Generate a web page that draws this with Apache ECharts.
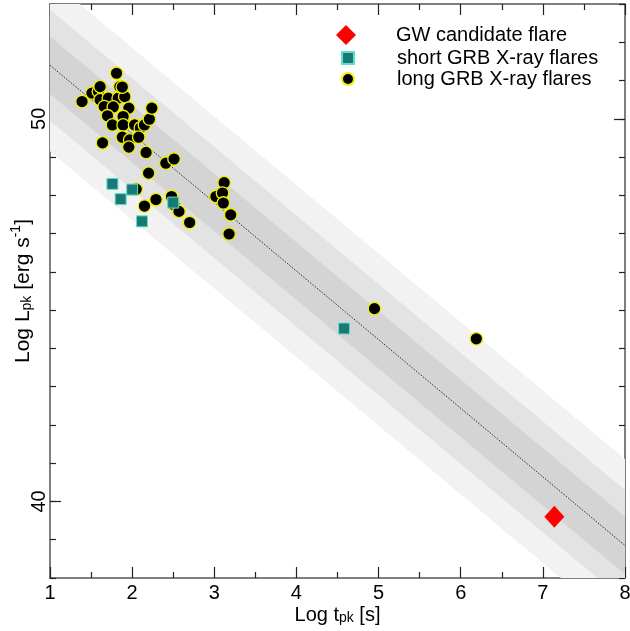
<!DOCTYPE html>
<html><head><meta charset="utf-8">
<script src="https://cdn.jsdelivr.net/npm/echarts@6/dist/echarts.min.js"></script>
<style>html,body{margin:0;padding:0;background:#fff}#c{width:630px;height:631px}</style>
</head><body><div id="c"></div>
<script>
// ---- data ----
const longGRB = [[1.39,50.45],[1.51,50.67],[1.59,50.71],[1.61,50.50],[1.71,50.54],[1.66,50.32],[1.83,50.54],[1.91,50.58],[1.85,50.84],[1.88,50.83],[1.81,51.19],[1.61,50.84],[1.77,50.31],[1.96,50.28],[1.89,50.06],[1.70,50.08],[1.76,49.84],[1.89,49.84],[2.03,49.84],[2.10,49.76],[2.15,49.84],[2.21,49.99],[2.24,50.28],[1.88,49.52],[1.97,49.45],[2.08,49.52],[1.96,49.26],[1.64,49.37],[2.17,49.12],[2.41,48.84],[2.51,48.95],[2.20,48.58],[2.05,48.16],[2.29,47.89],[2.15,47.72],[2.48,47.97],[2.51,47.75],[2.57,47.58],[2.70,47.29],[3.02,47.97],[3.12,48.33],[3.10,48.06],[3.11,47.80],[3.20,47.49],[3.18,46.99],[4.95,45.04],[6.19,44.25]];
const shortGRB = [[1.76,48.30],[2.00,48.15],[1.86,47.90],[2.12,47.32],[2.50,47.81],[4.58,44.52]];
const gwFlare = [[7.14,39.60]];
const fitX = [1, 8];
const fitL = [51.40, 38.85];
const bandHalfWidths = [2.25, 1.45, 0.75];
const bandColors = ['#f2f2f2', '#e3e3e3', '#d4d4d4'];
const yLabelValues = [40, 50];
const seriesNames = ['GW candidate flare', 'short GRB X-ray flares', 'long GRB X-ray flares'];

const FONT = '"Liberation Sans", Arial, Helvetica, sans-serif';
const chart = echarts.init(document.getElementById('c'), null, {renderer: 'canvas'});

const axisLineStyle = {color: '#555', width: 1.5};
const tickStyle = {color: '#222', width: 1.2};

function rich(sz) {
  return {
    n: {fontSize: sz, fontFamily: FONT, color: '#000', lineHeight: sz + 4, verticalAlign: 'bottom'},
    s: {fontSize: Math.round(sz * 0.68), fontFamily: FONT, color: '#000', lineHeight: Math.round(sz * 0.66), verticalAlign: 'bottom'},
    p: {fontSize: Math.round(sz * 0.68), fontFamily: FONT, color: '#000', lineHeight: Math.round(sz * 0.8), verticalAlign: 'top'}
  };
}

function xAx(pos, showLabels) {
  return {
    type: 'value', min: 1, max: 8, interval: 1, position: pos,
    axisLine: {show: true, lineStyle: axisLineStyle},
    axisTick: {show: true, inside: true, length: 11, lineStyle: tickStyle},
    minorTick: {show: true, splitNumber: 2, length: 6, lineStyle: tickStyle},
    splitLine: {show: false}, minorSplitLine: {show: false},
    axisLabel: {show: showLabels, fontSize: 20, margin: 5, color: '#000', fontFamily: FONT},
    name: showLabels ? '{n|Log t}{s|pk}{n| [s]}' : '',
    nameLocation: 'middle', nameGap: 23, nameMoveOverlap: false,
    nameTextStyle: {rich: rich(20)}
  };
}
function yMajor(pos, showLabels) {
  return {
    type: 'value', min: 38, max: 53, position: pos,
    axisLine: {show: true, lineStyle: axisLineStyle},
    axisTick: {show: true, inside: true, length: 11, lineStyle: tickStyle, customValues: yLabelValues},
    splitLine: {show: false},
    axisLabel: {show: showLabels, customValues: yLabelValues, rotate: 90, fontSize: 20, margin: 1, color: '#000', fontFamily: FONT},
    name: showLabels ? '{n|Log L}{s|pk}{n| [erg s}{p|-1}{n|]}' : '',
    nameLocation: 'middle', nameGap: 16, nameMoveOverlap: false,
    nameTextStyle: {rich: rich(21)}
  };
}
function yMinor(pos) {
  return {
    type: 'value', min: 38, max: 53, interval: 1, position: pos,
    axisLine: {show: false},
    axisTick: {show: true, inside: true, length: 6, lineStyle: tickStyle},
    splitLine: {show: false},
    axisLabel: {show: false}
  };
}

const legendText = (lh, padLeft) => ({fontSize: 20, color: '#000', fontFamily: FONT, lineHeight: lh, padding: [0, 0, 0, padLeft]});

const option = {
  backgroundColor: '#fff',
  animation: false,
  grid: {left: 50, right: 5, top: 4, bottom: 53, containLabel: false, outerBoundsMode: 'none'},
  xAxis: [xAx('bottom', true), xAx('top', false)],
  yAxis: [yMajor('left', true), yMinor('left'), yMajor('right', false), yMinor('right')],
  legend: [
    {data: [seriesNames[0]], left: 336, top: 25, padding: 0, itemWidth: 20, itemHeight: 20, textStyle: legendText(20, 35)},
    {data: [seriesNames[1]], left: 341, top: 48, padding: 0, itemWidth: 12, itemHeight: 12, textStyle: legendText(12, 38)},
    {data: [seriesNames[2]], left: 341, top: 69, padding: 0, itemWidth: 12, itemHeight: 12, textStyle: legendText(12, 38)}
  ],
  series: [
    {
      type: 'custom', name: 'bands', silent: true, clip: true, z: 1,
      data: bandHalfWidths.map(k => [k]),
      renderItem: function (params, api) {
        const k = api.value(0);
        const pts = [
          api.coord([fitX[0], fitL[0] + k]),
          api.coord([fitX[1], fitL[1] + k]),
          api.coord([fitX[1], fitL[1] - k]),
          api.coord([fitX[0], fitL[0] - k])
        ];
        return {type: 'polygon', shape: {points: pts}, style: {fill: bandColors[params.dataIndex]}};
      }
    },
    {
      type: 'line', name: 'fit', silent: true, z: 2, symbol: 'none',
      data: fitX.map((x, i) => [x, fitL[i]]),
      lineStyle: {color: '#000', width: 0.8, type: [1.5, 1.5]}
    },
    {
      type: 'scatter', name: seriesNames[2], z: 3, symbol: 'circle', symbolSize: 12.5,
      data: longGRB,
      itemStyle: {color: '#000', borderColor: '#f0f000', borderWidth: 1.3, opacity: 1}
    },
    {
      type: 'scatter', name: seriesNames[1], z: 4, symbol: 'rect', symbolSize: 11,
      data: shortGRB,
      itemStyle: {color: '#1a7a73', borderColor: '#5fe0cf', borderWidth: 1, opacity: 1}
    },
    {
      type: 'scatter', name: seriesNames[0], z: 5, symbol: 'diamond', symbolSize: [20, 22],
      data: gwFlare,
      itemStyle: {color: '#ff0000', opacity: 1}
    }
  ]
};
chart.setOption(option);
</script>
</body></html>
